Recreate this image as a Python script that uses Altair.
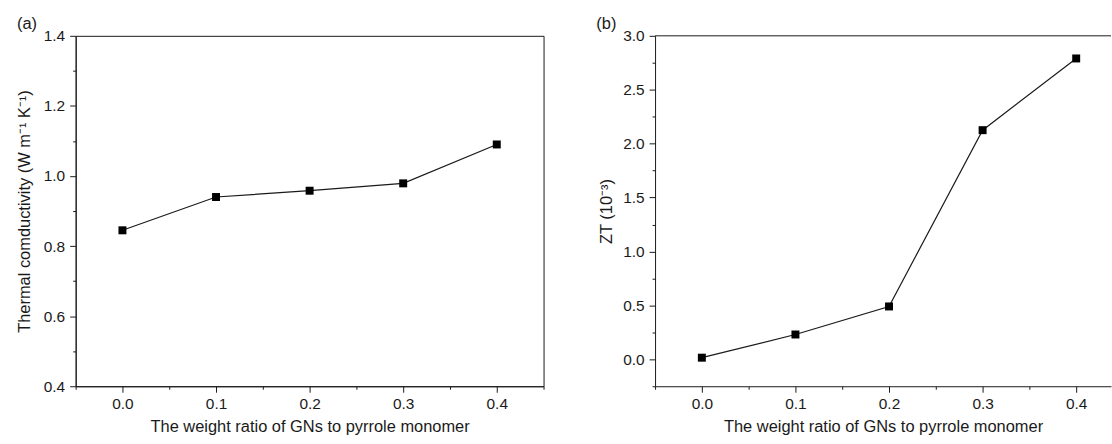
import altair as alt
import pandas as pd

# ---- data ----
ratio = [0.0, 0.1, 0.2, 0.3, 0.4]
thermal_cond = [0.845, 0.940, 0.958, 0.979, 1.090]
zt = [0.015, 0.23, 0.49, 2.125, 2.79]

x_ticks_a = [-0.05, 0.0, 0.05, 0.1, 0.15, 0.2, 0.25, 0.3, 0.35, 0.4, 0.45]
x_ticks_b = [-0.05, 0.0, 0.05, 0.1, 0.15, 0.2, 0.25, 0.3, 0.35, 0.4]
ya_ticks = [0.4, 0.5, 0.6, 0.7, 0.8, 0.9, 1.0, 1.1, 1.2, 1.3, 1.4]
yb_ticks = [-0.25, 0.0, 0.25, 0.5, 0.75, 1.0, 1.25, 1.5, 1.75, 2.0, 2.25, 2.5, 2.75, 3.0]

x_title = "The weight ratio of GNs to pyrrole monomer"
ya_title = "Thermal comductivity (W m\u207b\u00b9 K\u207b\u00b9)"
yb_title = "ZT (10\u207b\u00b3)"
letters = ["(a)", "(b)"]

FONT = "Liberation Sans"
INK = "#1a1a1a"
H = 352
W_A = 470
W_B = 458           # right panel is cut by the picture's right edge
XDOM_A = [-0.05, 0.45]
XDOM_B = [-0.05, 0.4372]

df_a = pd.DataFrame({"x": ratio, "y": thermal_cond})
df_b = pd.DataFrame({"x": ratio, "y": zt})


def axis(values, major_test, title, pad_title, label_pad):
    return alt.Axis(
        values=values,
        labelExpr=f"({major_test}) ? format(datum.value, '.1f') : ''",
        tickSize={"condition": {"test": major_test, "value": 6}, "value": 3},
        tickColor=INK,
        tickWidth=1,
        domainColor=INK,
        domainWidth=1,
        grid=False,
        labelFont=FONT,
        labelFontSize=15.5,
        labelColor=INK,
        labelPadding=label_pad,
        title=title,
        titleFont=FONT,
        titleFontSize=16.5,
        titleFontWeight="normal",
        titleColor=INK,
        titlePadding=pad_title,
        labelFlush=False,
        labelOverlap=False,
    )


x_major = "round(datum.value*20) % 2 == 0"


def panel(df, width, xdom, xvals, ydomain, yvalues, ymajor, ytitle, ytpad, letter, frame):
    xenc = alt.X("x:Q", scale=alt.Scale(domain=xdom, nice=False, zero=False),
                 axis=axis(xvals, x_major, x_title, 7, 4))
    yenc = alt.Y("y:Q", scale=alt.Scale(domain=ydomain, nice=False, zero=False),
                 axis=axis(yvalues, ymajor, ytitle, ytpad, 5))
    base = alt.Chart(df)
    line = base.mark_line(color=INK, strokeWidth=1.2).encode(x=xenc, y=yenc)
    pts = base.mark_square(color="black", size=64, opacity=1).encode(x=xenc, y=yenc)
    lab = alt.Chart(pd.DataFrame({"t": [letter]})).mark_text(
        font=FONT, fontSize=16.5, color=INK, align="left", baseline="alphabetic"
    ).encode(x=alt.value(-59), y=alt.value(-7), text="t:N")
    layers = [line, pts, lab]
    if not frame:
        topline = alt.Chart(pd.DataFrame({"t": [letter]})).mark_rule(
            color=INK, strokeWidth=1
        ).encode(x=alt.value(0), x2=alt.value(width), y=alt.value(0))
        layers.append(topline)
    return alt.layer(*layers).properties(
        width=width,
        height=H,
        view=alt.ViewBackground(stroke=INK if frame else None, strokeWidth=1),
    )


left = panel(df_a, W_A, XDOM_A, x_ticks_a, [0.4, 1.4], ya_ticks,
             "round(datum.value*10) % 2 == 0", ya_title, 11, letters[0], True)
right = panel(df_b, W_B, XDOM_B, x_ticks_b, [-0.25, 3.0], yb_ticks,
              "round(datum.value*4) % 2 == 0", yb_title, 8, letters[1], False)

chart = alt.hconcat(left, right, spacing=52).properties(
    padding={"left": 15, "top": 14, "right": 0, "bottom": 2},
    background="white",
)

chart.save("out.html", embed_options={"renderer": "svg", "actions": False})
